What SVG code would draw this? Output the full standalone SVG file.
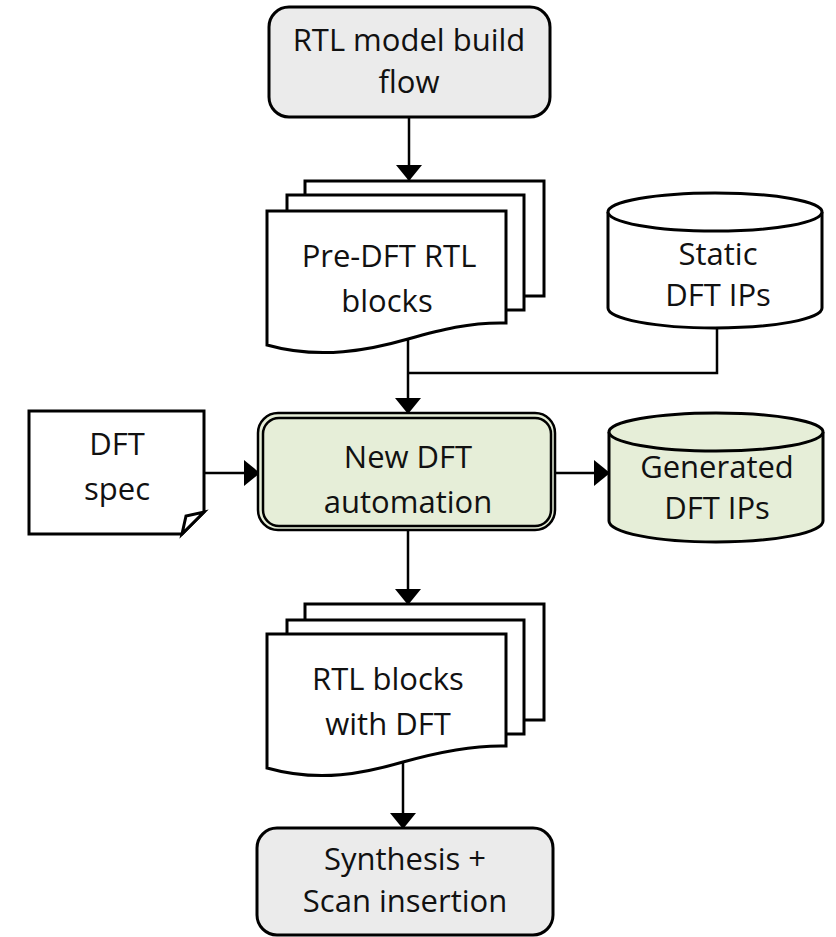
<svg xmlns="http://www.w3.org/2000/svg" width="836" height="937" viewBox="0 0 836 937">
<defs>
<style>
.t{font-family:"Open Sans","Liberation Sans",sans-serif;font-size:31px;fill:#111;text-anchor:middle}
.gray{fill:#ebebeb;stroke:#000;stroke-width:3}
.green{fill:#e6eed8;stroke:#000;stroke-width:3}
.white{fill:#fff;stroke:#000;stroke-width:3;stroke-linejoin:miter}
.conn{fill:none;stroke:#000;stroke-width:2.5}
</style>
<marker id="ah" markerUnits="userSpaceOnUse" markerWidth="16" markerHeight="26" refX="15" refY="13" orient="auto">
<path d="M0,0 L16,13 L0,26 Z" fill="#000"/>
</marker>
</defs>
<rect width="836" height="937" fill="#fff"/>

<g id="connectors">
<path class="conn" d="M409,117 V180" marker-end="url(#ah)"/>
<path class="conn" d="M408,339 V413" marker-end="url(#ah)"/>
<path class="conn" d="M717,328 V373 H408"/>
<path class="conn" d="M204,473 H259" marker-end="url(#ah)"/>
<path class="conn" d="M555,473 H609" marker-end="url(#ah)"/>
<path class="conn" d="M408,530 V604" marker-end="url(#ah)"/>
<path class="conn" d="M403,762 V828" marker-end="url(#ah)"/>
</g>

<g id="rtl-model-build-flow">
<rect class="gray" x="269" y="7" width="281" height="110" rx="20"/>
<text class="t" x="409" y="51">RTL model build</text>
<text class="t" x="409" y="93">flow</text>
</g>

<g id="pre-dft-rtl-blocks">
<rect class="white" x="305" y="181" width="239" height="115"/>
<rect class="white" x="287" y="195" width="237" height="115"/>
<path class="white" d="M267,211 H506 V323 C470,322 440,330 408,339 C370,350 320,360 267,345 Z"/>
<text class="t" x="389" y="267">Pre-DFT RTL</text>
<text class="t" x="387" y="312">blocks</text>
</g>

<g id="static-dft-ips">
<path class="white" d="M608,212 V308 A107,20 0 0 0 822,308 V212"/>
<ellipse class="white" cx="715" cy="212" rx="107" ry="19"/>
<text class="t" x="718" y="265">Static</text>
<text class="t" x="718" y="306">DFT IPs</text>
</g>

<g id="dft-spec">
<path class="white" d="M29,411 H204 V512 L182,534 H29 Z"/>
<path class="white" d="M182,534 L186,516 L204,512 Z" stroke-linejoin="round"/>
<text class="t" x="117" y="455">DFT</text>
<text class="t" x="117" y="500">spec</text>
</g>

<g id="new-dft-automation">
<rect x="258" y="413" width="297" height="117" rx="20" fill="#e6eed8" stroke="#000" stroke-width="2.5"/>
<rect x="263" y="418" width="288" height="108" rx="16" fill="none" stroke="#000" stroke-width="2.5"/>
<text class="t" x="408" y="468">New DFT</text>
<text class="t" x="408" y="513">automation</text>
</g>

<g id="generated-dft-ips">
<path class="green" d="M609,432 V521 A107,21 0 0 0 823,521 V432"/>
<ellipse class="green" cx="716" cy="432" rx="107" ry="19"/>
<text class="t" x="717" y="478">Generated</text>
<text class="t" x="717" y="519">DFT IPs</text>
</g>

<g id="rtl-blocks-with-dft">
<rect class="white" x="305" y="604" width="239" height="116"/>
<rect class="white" x="287" y="620" width="237" height="114"/>
<path class="white" d="M267,634 H506 V746 C470,745 435,753 403,762 C365,773 320,783 267,768 Z"/>
<text class="t" x="388" y="690">RTL blocks</text>
<text class="t" x="388" y="735">with DFT</text>
</g>

<g id="synthesis-scan-insertion">
<rect class="gray" x="257" y="828" width="296" height="107" rx="20"/>
<text class="t" x="405" y="870">Synthesis +</text>
<text class="t" x="405" y="912">Scan insertion</text>
</g>
</svg>
